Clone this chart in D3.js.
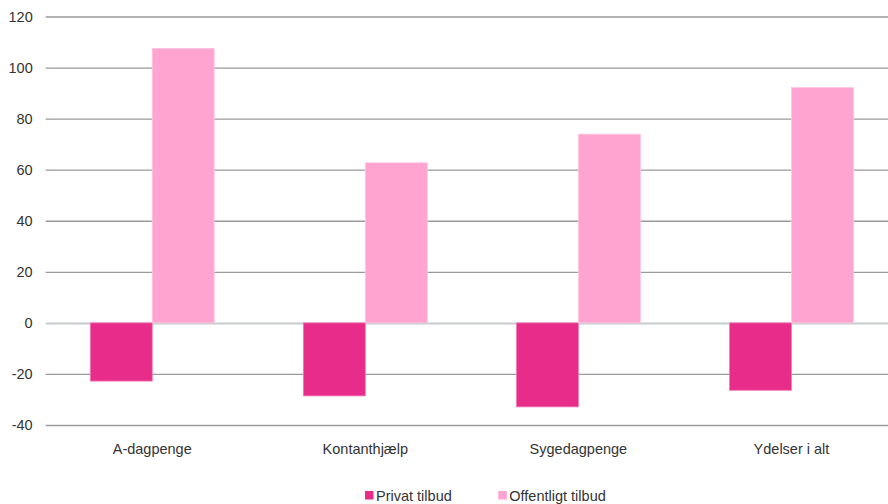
<!DOCTYPE html>
<html><head><meta charset="utf-8">
<script src="https://cdn.jsdelivr.net/npm/d3@7"></script>
<style>
html,body{margin:0;padding:0;background:#fff;}
svg{display:block;font-family:"Liberation Sans",Arial,sans-serif;}
</style></head>
<body>
<svg id="c" width="888" height="504"></svg>
<script>
const categories = ["A-dagpenge", "Kontanthjælp", "Sygedagpenge", "Ydelser i alt"];
const seriesNames = ["Privat tilbud", "Offentligt tilbud"];
const privat = [-22.8, -28.6, -32.9, -26.4];
const offentligt = [107.5, 62.7, 73.9, 92.2];
const yTicks = [-40, -20, 0, 20, 40, 60, 80, 100, 120];
const colors = ["#E82C8A", "#FFA3D1"];

(function () {
const svg = d3.select("#c");
const mLeft = 45.7, mRight = 898, mTop = 16.5, mBottom = 425;
const y = d3.scaleLinear().domain([-40, 120]).range([mBottom, mTop]);
const x = d3.scaleBand().domain(categories).range([mLeft, mRight]);
const inner = d3.scaleBand().domain(seriesNames).range([0, x.bandwidth()]).paddingInner(0).paddingOuter(0.72);

// gridlines
const yAxis = d3.axisLeft(y).tickValues(yTicks).tickSize(-(mRight - mLeft)).tickPadding(13).tickFormat(d => String(d));
const ga = svg.append("g").attr("transform", `translate(${mLeft},0)`).call(yAxis);
ga.select(".domain").remove();
ga.selectAll(".tick line").attr("stroke", "#9a9a9a").attr("stroke-width", 1.3)
  .filter(d => d === 0).attr("stroke", "#c5cccc").attr("stroke-width", 2);
ga.selectAll(".tick text").attr("fill", "#333").attr("font-size", "14.5px");

// bars
const data = categories.map((c, i) => ({c, vals: [privat[i], offentligt[i]]}));
const groups = svg.append("g").selectAll("g").data(data).join("g")
  .attr("transform", d => `translate(${x(d.c)},0)`);
groups.selectAll("rect").data(d => d.vals.map((v, j) => ({v, s: seriesNames[j], j})))
  .join("rect")
  .attr("x", d => inner(d.s))
  .attr("width", inner.bandwidth())
  .attr("y", d => y(Math.max(0, d.v)))
  .attr("height", d => Math.abs(y(d.v) - y(0)))
  .attr("fill", d => colors[d.j])
  .attr("stroke", d => d.j === 0 ? "#f07ab5" : "#ffc6e3")
  .attr("stroke-width", 0.8);

// x labels
const xAxis = d3.axisBottom(x).tickSize(0).tickPadding(0);
const gx = svg.append("g").attr("transform", `translate(0,${mBottom})`).call(xAxis);
gx.select(".domain").remove();
gx.selectAll(".tick text").attr("fill", "#333").attr("font-size", "14.5px").attr("dy", null).attr("y", 28.5);

// legend
const leg = svg.append("g");
const legX = [365, 498.3];
seriesNames.forEach((s, i) => {
  leg.append("rect").attr("x", legX[i]).attr("y", 491).attr("width", 8.5).attr("height", 8.5).attr("fill", colors[i]);
  leg.append("text").attr("x", legX[i] + 11).attr("y", 500.5).attr("font-size", "14.5px").attr("fill", "#333").text(s);
});
})();
</script>
</body></html>
